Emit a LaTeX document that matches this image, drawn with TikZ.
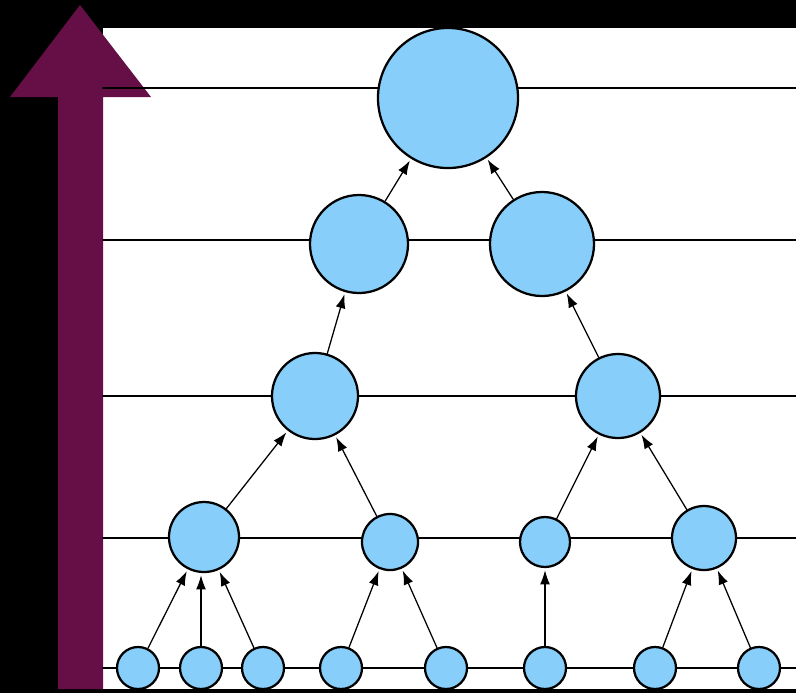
\documentclass[tikz,border=0pt]{standalone}
\usepackage{tikz}
\usetikzlibrary{arrows.meta}
\definecolor{skyfill}{HTML}{87CEFA}
\definecolor{barpurple}{HTML}{660F46}

\begin{document}
\begin{tikzpicture}[x=0.025cm, y=-0.025cm, line join=round, line cap=round,
	nd/.style={circle, draw, line width=1.6pt, fill=skyfill, inner sep=0pt, minimum size=#1*0.05cm},
	link/.style={-{Latex[length=10pt,width=7pt]}, line width=0.9pt, shorten >=1.5pt},
	hline/.style={line width=1.4pt}]
	\useasboundingbox (0,0) rectangle (796,693);
	% [Nen - Layer 1]
	\fill[black] (0,0) rectangle (796,693);
	\fill[white] (103,28) rectangle (796,689);
	
	% [Mui ten lon - Layer 1.1]
	\fill[barpurple] (58,689) -- (58,97) -- (10,97) -- (80,5) -- (151,97) -- (103,97) -- (103,689) -- cycle;
	
	% [Cac muc ngang - Layer 2]
	\foreach \y in {88,240,396,538,668}
		\draw[hline] (103,\y) -- (796,\y);
	
	% [Cac nut - Layer 3]
	\node[nd=70] (top) at (448,98) {};
	\node[nd=49] (ua) at (359,244) {};
	\node[nd=52] (ub) at (542,244) {};
	\node[nd=43] (ma) at (315,396) {};
	\node[nd=42] (mb) at (618,396) {};
	\node[nd=35] (la) at (204,537) {};
	\node[nd=28] (lb) at (390,542) {};
	\node[nd=25] (lc) at (545,542) {};
	\node[nd=32] (ld) at (704,538) {};
	\foreach \x [count=\i] in {138,201,263,341,446,545,655,759}
		\node[nd=21] (b\i) at (\x,668) {};
	
	% [Noi con len cha - Layer 4]
	\draw[link] (b1) -- (la);
	\draw[link] (b2) -- (b2 |- la.south);
	\draw[link] (b3) -- (la);
	\draw[link] (b4) -- (lb);
	\draw[link] (b5) -- (lb);
	\draw[link] (b6) -- (lc);
	\draw[link] (b7) -- (ld);
	\draw[link] (b8) -- (ld);
	\draw[link] (la) -- (ma);
	\draw[link] (lb) -- (ma);
	\draw[link] (lc) -- (mb);
	\draw[link] (ld) -- (mb);
	\draw[link] (ma) -- (ua);
	\draw[link] (mb) -- (ub);
	\draw[link] (ua) -- (top);
	\draw[link] (ub) -- (top);
\end{tikzpicture}
\end{document}
